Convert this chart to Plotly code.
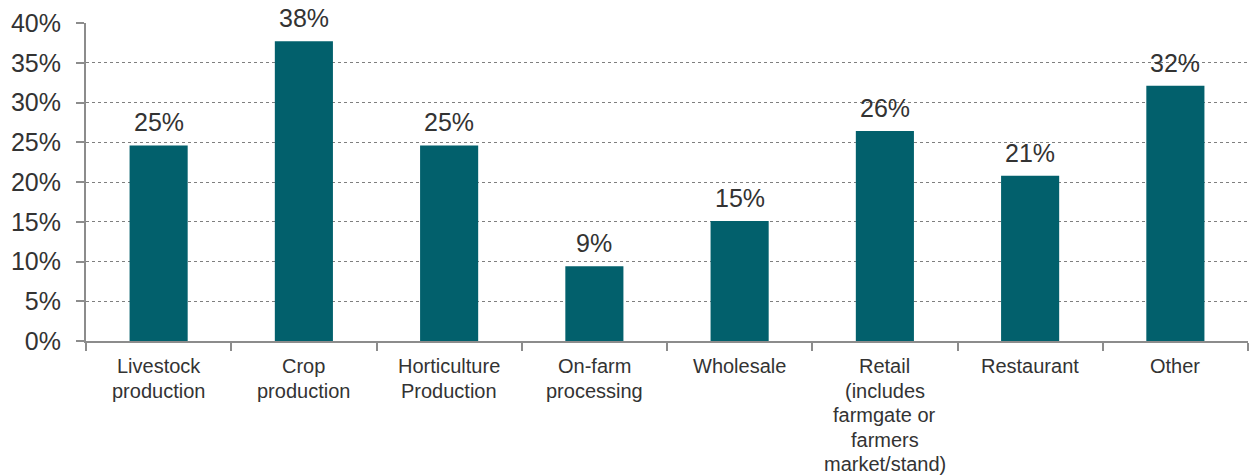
import plotly.graph_objects as go

# Share of respondents by farm business activity
categories = [
    "Livestock<br>production",
    "Crop<br>production",
    "Horticulture<br>Production",
    "On-farm<br>processing",
    "Wholesale",
    "Retail<br>(includes<br>farmgate or<br>farmers<br>market/stand)",
    "Restaurant",
    "Other",
]
shares = [24.6, 37.7, 24.6, 9.4, 15.1, 26.4, 20.8, 32.1]
y_ticks = [0, 5, 10, 15, 20, 25, 30, 35, 40]
y_tick_labels = [f"{t}%" for t in y_ticks]

BAR_COLOR = "#02606c"
TEXT_COLOR = "#333333"
AXIS_COLOR = "#8c8c8c"
FONT = "Liberation Sans, Arial, sans-serif"
LINE_STEP = 24.5  # vertical spacing of wrapped category-label lines (px)

fig = go.Figure(
    go.Bar(
        x=categories,
        y=shares,
        marker=dict(color=BAR_COLOR, line=dict(width=0)),
        hoverinfo="skip",
    )
)

# Value labels above each bar
for cat, val in zip(categories, shares):
    fig.add_annotation(
        x=cat,
        y=val,
        text=f"{round(val)}%",
        showarrow=False,
        yanchor="bottom",
        yshift=7,
        font=dict(family=FONT, size=25, color=TEXT_COLOR),
    )

# Category labels, one annotation per wrapped line for tighter leading
for cat in categories:
    for i, line in enumerate(cat.split("<br>")):
        fig.add_annotation(
            x=cat,
            xref="x",
            y=0,
            yref="paper",
            text=line,
            showarrow=False,
            yanchor="middle",
            yshift=-(25 + i * LINE_STEP),
            font=dict(family=FONT, size=20, color=TEXT_COLOR),
        )

fig.update_layout(
    width=1249,
    height=476,
    margin=dict(l=86, r=1, t=23, b=135),
    paper_bgcolor="white",
    plot_bgcolor="white",
    bargap=0.6,
    showlegend=False,
    font=dict(family=FONT, color=TEXT_COLOR),
)

fig.update_xaxes(
    tickson="boundaries",
    ticks="outside",
    ticklen=8,
    tickwidth=2,
    tickcolor=AXIS_COLOR,
    showline=True,
    linecolor=AXIS_COLOR,
    linewidth=2,
    showgrid=False,
    showticklabels=False,
)

fig.update_yaxes(
    range=[0, 40],
    tickvals=y_ticks,
    ticktext=y_tick_labels,
    ticks="outside",
    ticklen=8,
    tickwidth=2,
    tickcolor=AXIS_COLOR,
    showline=True,
    linecolor=AXIS_COLOR,
    linewidth=2,
    showgrid=True,
    gridcolor="#7f7f7f",
    gridwidth=1.2,
    griddash="dot",
    zeroline=False,
    tickfont=dict(family=FONT, size=25, color=TEXT_COLOR),
    ticklabelstandoff=10,
)

fig.write_html("out.html")
